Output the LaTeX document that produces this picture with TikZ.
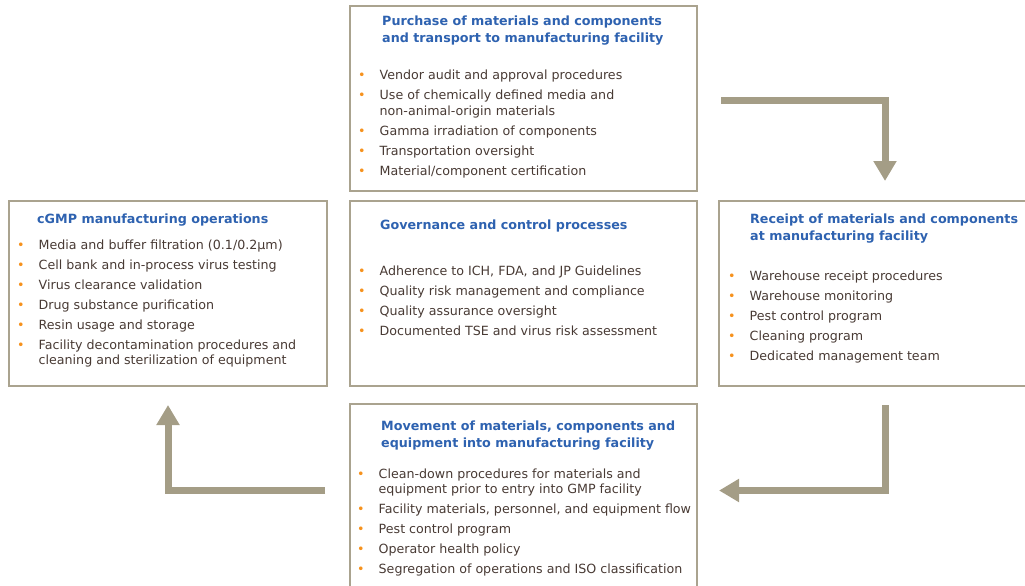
\documentclass[tikz,border=0pt]{standalone}
\usepackage{fontspec}
\setmainfont{DejaVu Sans}
\usetikzlibrary{arrows.meta,positioning}

\definecolor{framegray}{RGB}{170,163,143}
\definecolor{arrowgray}{RGB}{164,157,134}
\definecolor{headblue}{RGB}{46,98,176}
\definecolor{bodybrown}{RGB}{72,58,52}
\definecolor{dotorange}{RGB}{246,146,30}

\newcommand{\itm}{\makebox[21.5pt][l]{\textcolor{dotorange}{\textbullet}}}
\newcommand{\cont}{\hspace*{21.5pt}}

\tikzset{
  panel/.style={draw=framegray, line width=2pt, minimum width=347pt, minimum height=185pt, anchor=north west, inner sep=0pt},
  heading/.style={anchor=north west, inner sep=0pt, align=left, text=headblue, font=\fontsize{12.7}{17}\selectfont\bfseries},
  items/.style={anchor=north west, inner sep=0pt, align=left, text=bodybrown, font=\fontsize{12.65}{15.5}\selectfont},
  flow/.style={draw=arrowgray, line width=7pt, -{Triangle[width=22pt,length=20pt]}}
}

\begin{document}
\begin{tikzpicture}[x=1pt,y=-1pt]
    \clip (0,0) rectangle (1025,586);

    % the five panels
    \node[panel] (purchase) at (349,5) {};
    \node[panel] (governance) at (349,200) {};
    \node[panel, minimum width=318pt] (cgmp) at (8,200) {};
    \node[panel, minimum width=332pt] (receipt) at (718,200) {};
    \node[panel] (movement) at (349,403) {};

    % headings
    \node[heading] (purchasehead) at (382,16) {Purchase of materials and components\\and transport to manufacturing facility};
    \node[heading] (governancehead) at (380,220) {Governance and control processes};
    \node[heading] (cgmphead) at (37,213.5) {cGMP manufacturing operations};
    \node[heading] (receipthead) at (750,213.5) {Receipt of materials and components\\at manufacturing facility};
    \node[heading] (movementhead) at (381,420.5) {Movement of materials, components and\\equipment into manufacturing facility};

    % bullet lists
    \node[items] (purchaselist) at (358,70) {\itm Vendor audit and approval procedures\\[4.5pt]
        \itm Use of chemically defined media and\\ \cont non-animal-origin materials\\[4.5pt]
        \itm Gamma irradiation of components\\[4.5pt]
        \itm Transportation oversight\\[4.5pt]
        \itm Material/component certification};
    \node[items] (governancelist) at (358,266) {\itm Adherence to ICH, FDA, and JP Guidelines\\[4.5pt]
        \itm Quality risk management and compliance\\[4.5pt]
        \itm Quality assurance oversight\\[4.5pt]
        \itm Documented TSE and virus risk assessment};
    \node[items] (cgmplist) at (17,239.5) {\itm Media and buffer filtration (0.1/0.2μm)\\[4.5pt]
        \itm Cell bank and in-process virus testing\\[4.5pt]
        \itm Virus clearance validation\\[4.5pt]
        \itm Drug substance purification\\[4.5pt]
        \itm Resin usage and storage\\[4.5pt]
        \itm Facility decontamination procedures and\\ \cont cleaning and sterilization of equipment};
    \node[items] (receiptlist) at (728,270.5) {\itm Warehouse receipt procedures\\[4.5pt]
        \itm Warehouse monitoring\\[4.5pt]
        \itm Pest control program\\[4.5pt]
        \itm Cleaning program\\[4.5pt]
        \itm Dedicated management team};
    \node[items] (movementlist) at (357,468.5) {\itm Clean-down procedures for materials and\\ \cont equipment prior to entry into GMP facility\\[4.5pt]
        \itm Facility materials, personnel, and equipment flow\\[4.5pt]
        \itm Pest control program\\[4.5pt]
        \itm Operator health policy\\[4.5pt]
        \itm Segregation of operations and ISO classification};

    % flow arrows
    \draw[flow] ([shift={(23,2)}]purchase.east) -| ([shift={(0,-19)}]receipt.north);
    \draw[flow] ([shift={(0,18)}]receipt.south) |- ([shift={(21,-6)}]movement.east);
    \draw[flow] ([shift={(-24,-6)}]movement.west) -| ([shift={(0,18)}]cgmp.south);
\end{tikzpicture}
\end{document}
